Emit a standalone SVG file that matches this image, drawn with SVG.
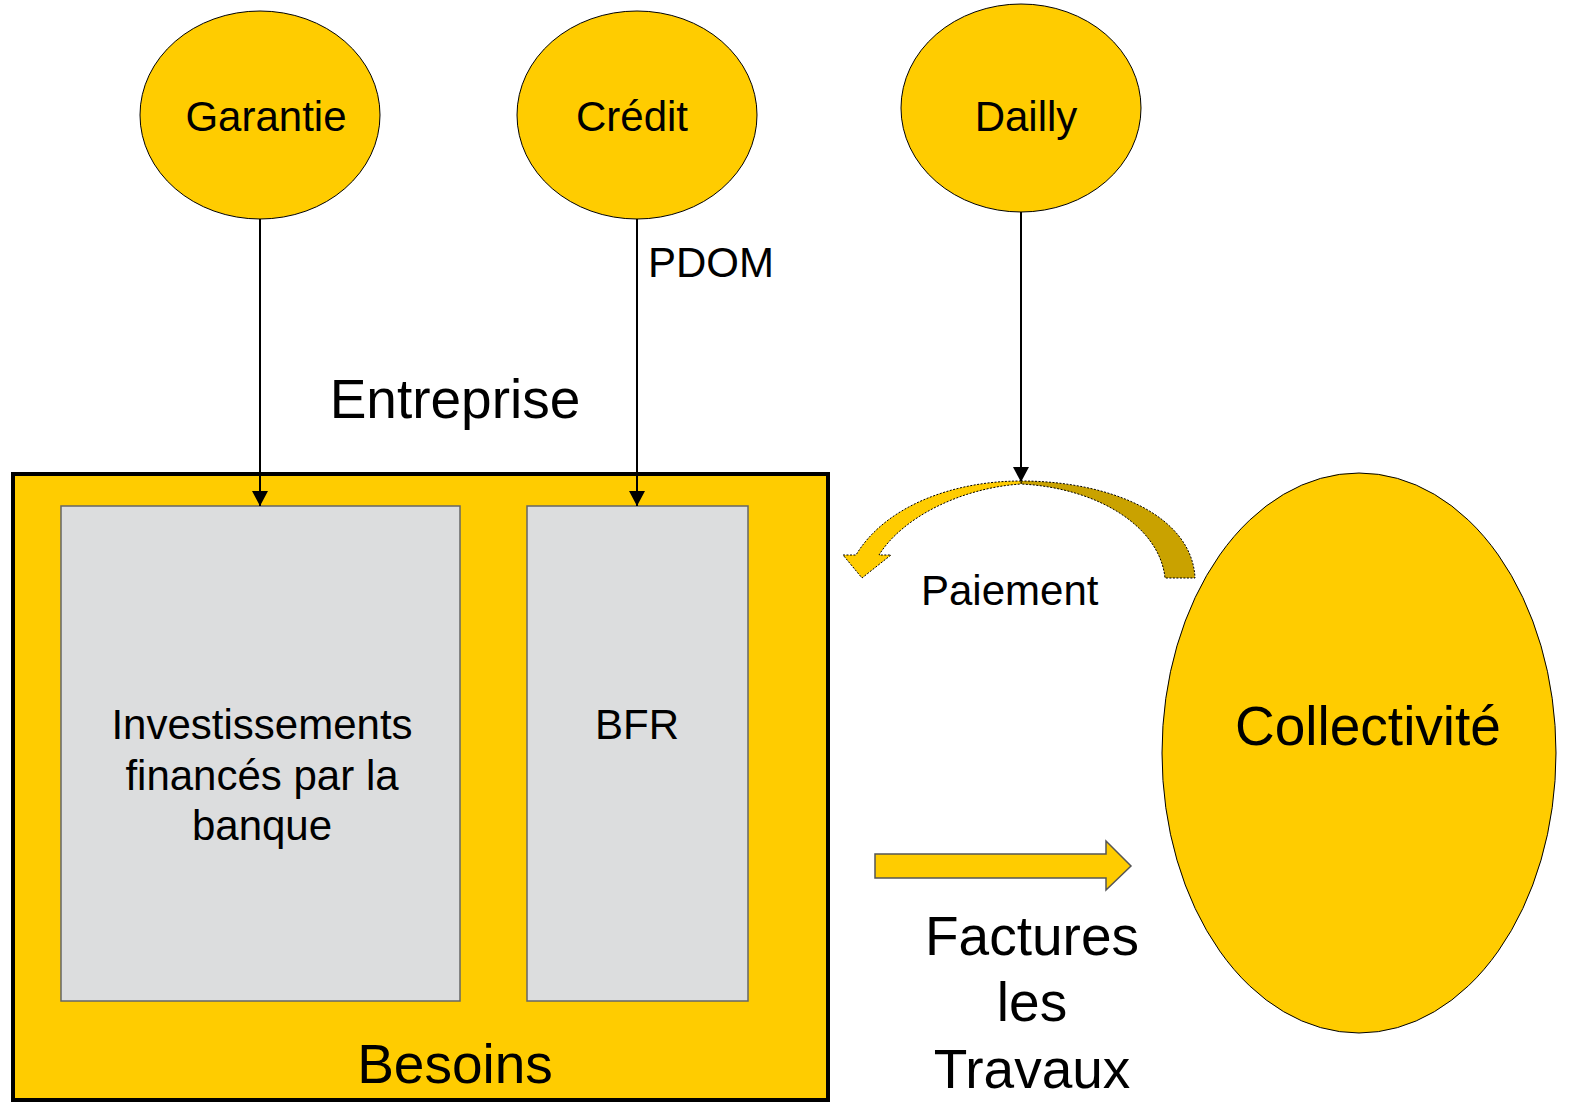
<svg xmlns="http://www.w3.org/2000/svg" width="1571" height="1102" viewBox="0 0 1571 1102">
<defs>
<style>
.node{fill:#FFCC00;stroke:#000;stroke-width:1}
.inner{fill:#DCDDDE;stroke:#666;stroke-width:1.5}
.t{font-family:"Liberation Sans",Arial,sans-serif;fill:#000}
.s{font-size:42px}
.b{font-size:55px}
.conn{stroke:#000;stroke-width:2;fill:none}
.dot{stroke:#000;stroke-width:1;stroke-dasharray:2,1.5}
</style>
<marker id="ah" markerWidth="15" markerHeight="16" viewBox="0 0 15 16" refX="15" refY="8" orient="auto" markerUnits="userSpaceOnUse">
<path d="M0,0 L15,8 L0,16 Z" fill="#000"/>
</marker>
</defs>
<rect width="1571" height="1102" fill="#fff"/>
<g id="entreprise">
<rect x="13" y="474" width="815" height="626" fill="#FFCC00" stroke="#000" stroke-width="4"/>
<text class="t b" x="455" y="418" text-anchor="middle">Entreprise</text>
<text class="t b" x="455" y="1083" text-anchor="middle">Besoins</text>
</g>
<g id="investissements">
<rect class="inner" x="61" y="506" width="399" height="495"/>
<text class="t s" text-anchor="middle"><tspan x="262" y="739">Investissements</tspan><tspan x="262" y="790">financés par la</tspan><tspan x="262" y="840">banque</tspan></text>
</g>
<g id="bfr">
<rect class="inner" x="527" y="506" width="221" height="495"/>
<text class="t s" x="637" y="739" text-anchor="middle">BFR</text>
</g>
<g id="garantie">
<ellipse class="node" cx="260" cy="115" rx="120" ry="104"/>
<text class="t s" x="266" y="131" text-anchor="middle">Garantie</text>
</g>
<g id="credit">
<ellipse class="node" cx="637" cy="115" rx="120" ry="104"/>
<text class="t s" x="632" y="131" text-anchor="middle">Crédit</text>
</g>
<g id="dailly">
<ellipse class="node" cx="1021" cy="108" rx="120" ry="104"/>
<text class="t s" x="1026" y="131" text-anchor="middle">Dailly</text>
</g>
<g id="collectivite">
<ellipse class="node" cx="1359" cy="753" rx="197" ry="280"/>
<text class="t b" x="1368" y="745" text-anchor="middle">Collectivité</text>
</g>
<g id="connectors">
<line class="conn" x1="260" y1="219" x2="260" y2="506" marker-end="url(#ah)"/>
<line class="conn" x1="637" y1="219" x2="637" y2="506" marker-end="url(#ah)"/>
<text class="t s" x="648" y="277">PDOM</text>
<line class="conn" x1="1021" y1="212" x2="1021" y2="482" marker-end="url(#ah)"/>
<path class="dot" fill="#C9A200" d="M1021,481 C1110,481 1192,515 1195,578 L1165,578 C1160,528 1100,488 1021,484 Z"/>
<path class="dot" fill="#FFCC00" d="M1021,481 C950,481 884,508 856,555 L843,555 L862,578 L891,555 L879,555 C902,518 960,488 1021,484 Z"/>
<text class="t s" x="921" y="605">Paiement</text>
<path fill="#FFCC00" stroke="#555" stroke-width="1.5" d="M875,854 L1106,854 L1106,841 L1131,866 L1106,890 L1106,878 L875,878 Z"/>
<text class="t b" text-anchor="middle"><tspan x="1032" y="955">Factures</tspan><tspan x="1032" y="1021">les</tspan><tspan x="1032" y="1088">Travaux</tspan></text>
</g>
</svg>
